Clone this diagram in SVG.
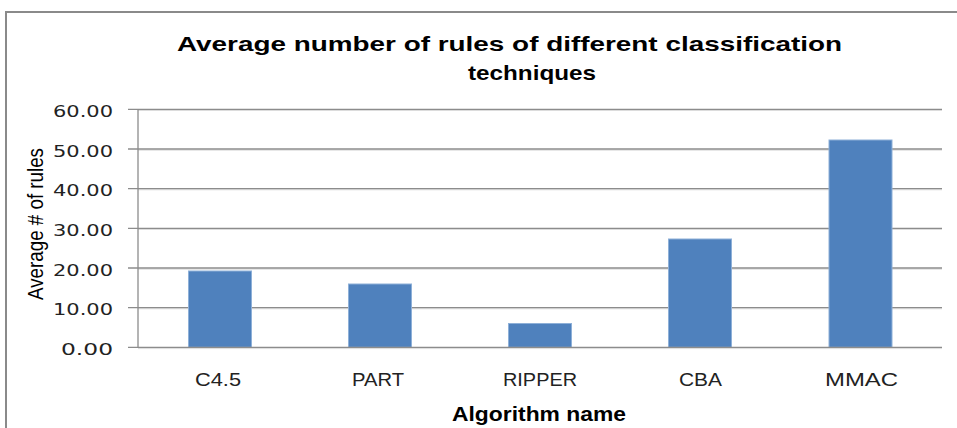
<svg xmlns="http://www.w3.org/2000/svg" width="957" height="428" viewBox="0 0 957 428">
<style>
.title{font-family:"Liberation Sans",Arial,sans-serif;font-weight:bold;font-size:20.5px;fill:#000}
.num{font-family:"DejaVu Sans",Verdana,sans-serif;font-size:16.5px;fill:#222}
.cat{font-family:"Liberation Sans",Arial,sans-serif;font-size:18px;fill:#222}
.axt{font-family:"Liberation Sans",Arial,sans-serif;font-weight:bold;font-size:19.5px;fill:#000}
.yt{font-family:"Liberation Sans",Arial,sans-serif;font-size:22px;fill:#000}
.grid{stroke:#8c8c8c;stroke-width:1.3}
.gsh{stroke:#dcdcdc;stroke-width:1}
.bar{fill:#4f81bd;stroke:#8eb0d8;stroke-width:1}
</style>
<rect x="0" y="0" width="957" height="428" fill="#fff"/>
<path d="M6 430 V12 H960" fill="none" stroke="#8a8a8a" stroke-width="2"/>
<g id="title">
<text class="title" x="177" y="51" textLength="665" lengthAdjust="spacingAndGlyphs">Average number of rules of different  classification</text>
<text class="title" x="468" y="80" textLength="128" lengthAdjust="spacingAndGlyphs">techniques</text>
</g>
<g id="gridlines">
<line class="gsh" x1="138" y1="110.5" x2="942" y2="110.5"/>
<line class="gsh" x1="138" y1="150.2" x2="942" y2="150.2"/>
<line class="gsh" x1="138" y1="189.8" x2="942" y2="189.8"/>
<line class="gsh" x1="138" y1="229.5" x2="942" y2="229.5"/>
<line class="gsh" x1="138" y1="269.2" x2="942" y2="269.2"/>
<line class="gsh" x1="138" y1="308.8" x2="942" y2="308.8"/>
<line class="grid" x1="128" y1="109.3" x2="942" y2="109.3"/>
<line class="grid" x1="128" y1="149" x2="942" y2="149"/>
<line class="grid" x1="128" y1="188.6" x2="942" y2="188.6"/>
<line class="grid" x1="128" y1="228.3" x2="942" y2="228.3"/>
<line class="grid" x1="128" y1="268" x2="942" y2="268"/>
<line class="grid" x1="128" y1="307.6" x2="942" y2="307.6"/>
</g>
<g id="bars">
<rect class="bar" x="188.5" y="271" width="63" height="76.3"/>
<rect class="bar" x="348.5" y="284" width="63" height="63.3"/>
<rect class="bar" x="508.5" y="323.5" width="63" height="23.8"/>
<rect class="bar" x="668.5" y="239" width="63" height="108.3"/>
<rect class="bar" x="829" y="140" width="63" height="207.3"/>
</g>
<g id="axes">
<line class="grid" x1="138" y1="109" x2="138" y2="347.3"/>
<line class="gsh" x1="138" y1="348.6" x2="942" y2="348.6"/>
<line class="grid" x1="128" y1="347.3" x2="942" y2="347.3"/>
</g>
<g id="yLabels">
<text class="num" x="113" y="117" text-anchor="end" textLength="60" lengthAdjust="spacingAndGlyphs">60.00</text>
<text class="num" x="113" y="156.7" text-anchor="end" textLength="60" lengthAdjust="spacingAndGlyphs">50.00</text>
<text class="num" x="113" y="196.3" text-anchor="end" textLength="60" lengthAdjust="spacingAndGlyphs">40.00</text>
<text class="num" x="113" y="236" text-anchor="end" textLength="60" lengthAdjust="spacingAndGlyphs">30.00</text>
<text class="num" x="113" y="275.7" text-anchor="end" textLength="60" lengthAdjust="spacingAndGlyphs">20.00</text>
<text class="num" x="113" y="315.3" text-anchor="end" textLength="60" lengthAdjust="spacingAndGlyphs">10.00</text>
<text class="num" x="113" y="355" text-anchor="end" textLength="52" lengthAdjust="spacingAndGlyphs">0.00</text>
</g>
<g id="xLabels">
<text class="cat" x="195" y="386" textLength="46" lengthAdjust="spacingAndGlyphs">C4.5</text>
<text class="cat" x="352" y="386" textLength="52" lengthAdjust="spacingAndGlyphs">PART</text>
<text class="cat" x="503" y="386" textLength="74" lengthAdjust="spacingAndGlyphs">RIPPER</text>
<text class="cat" x="679" y="386" textLength="43" lengthAdjust="spacingAndGlyphs">CBA</text>
<text class="cat" x="825" y="386" textLength="73" lengthAdjust="spacingAndGlyphs">MMAC</text>
</g>
<g id="axisTitles">
<text class="axt" x="452" y="421" textLength="174" lengthAdjust="spacingAndGlyphs">Algorithm name</text>
<text class="yt" transform="translate(43,224) rotate(-90)" x="0" y="0" text-anchor="middle" textLength="152" lengthAdjust="spacingAndGlyphs">Average # of rules</text>
</g>
</svg>
